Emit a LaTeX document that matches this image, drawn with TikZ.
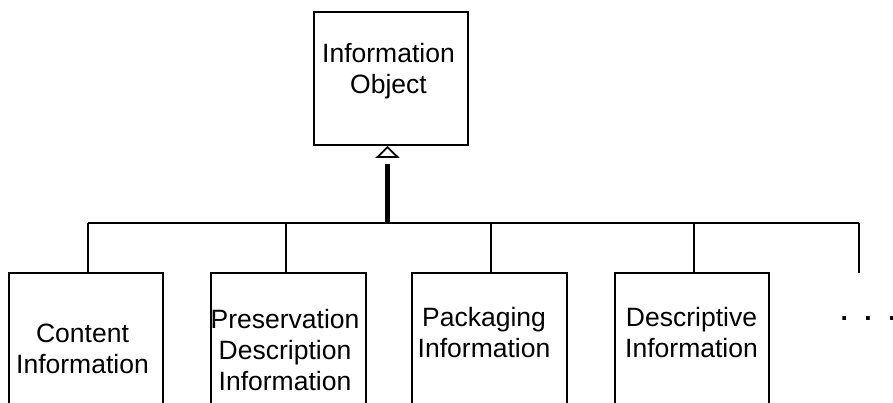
\documentclass[tikz,border=0pt]{standalone}
\usepackage{fontspec}
\setmainfont{Liberation Sans}
\usetikzlibrary{arrows.meta,calc}
\tikzset{
  box/.style={draw, line width=1.8pt, rectangle, inner sep=0pt},
  lbl/.style={align=center, inner sep=0pt, anchor=base, font=\fontsize{26.5}{31}\selectfont},
  conn/.style={line width=1.6pt},
}
\begin{document}
\begin{tikzpicture}[x=1pt,y=-1pt]
\useasboundingbox (0,0) rectangle (893,403);
\clip (0,0) rectangle (893,403);
% top box
\node[box, minimum width=154pt, minimum height=133pt] (io) at (391,78.5) {};
\node[lbl] (iot) at (388.5,94) {Information\\Object};
% child boxes (open at the bottom, cut by the page edge)
\node[box, minimum width=154pt, minimum height=160pt] (ci) at (86,353) {};
\node[box, minimum width=155pt, minimum height=160pt] (pdi) at (288.5,353) {};
\node[box, minimum width=155pt, minimum height=160pt] (pi) at (489.5,353) {};
\node[box, minimum width=154pt, minimum height=160pt] (di) at (692,353) {};
\node[lbl] (cit) at (82.5,373) {Content\\Information};
\node[lbl] (pdit) at (285,390) {Preservation\\Description\\Information};
\node[lbl] (pit) at (484,357) {Packaging\\Information};
\node[lbl] (dit) at (691.5,357) {Descriptive\\Information};
\node[lbl, anchor=base west, font=\fontsize{26.5}{31}\selectfont\bfseries] (more) at (840.3,320) {.\hspace{16.6pt}.\hspace{16.6pt}.};
% bus
\coordinate (b1) at (88,223);
\coordinate (b5) at (859,223);
\coordinate (hub) at (387.5,223);
\coordinate (e5) at (859,273);
\draw[conn] (b1) -- (b5);
\draw[conn] (b1) -- (b1 |- ci.north);
\draw[conn] (286,223) -- (286,273.9);
\draw[conn] (491,223) -- (491,273.9);
\draw[conn] (694,223) -- (694,273.9);
\draw[conn] (b5) -- (e5);
% generalisation arrow
\coordinate (apex) at (hub |- io.south);
\draw[line width=4.5pt] (hub) -- ($(apex)+(0,18)$);
\draw[line width=1.8pt, -{Triangle[open, length=12pt, width=24pt, line width=1.8pt]}]
  ($(apex)+(0,12.5)$) -- (apex);
\end{tikzpicture}
\end{document}
